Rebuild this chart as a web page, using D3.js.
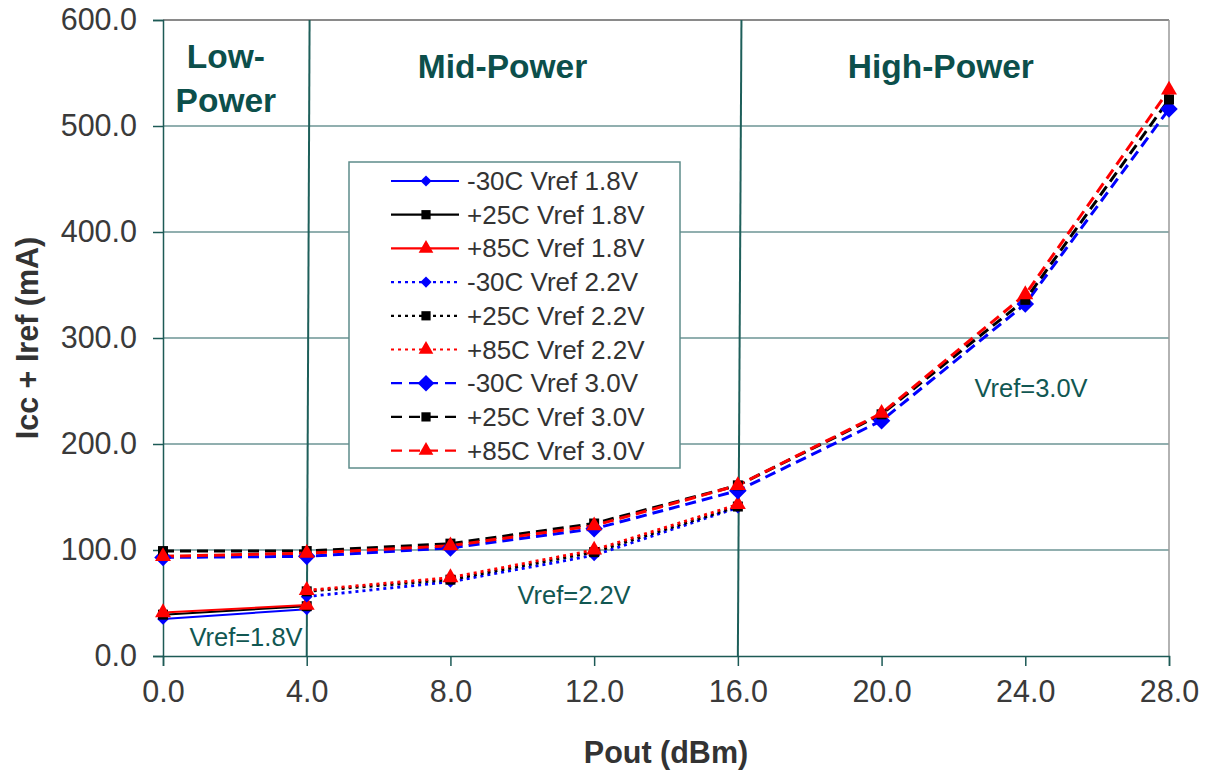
<!DOCTYPE html>
<html>
<head>
<meta charset="utf-8">
<script src="https://cdn.jsdelivr.net/npm/d3@7"></script>
<style>
  html, body { margin: 0; padding: 0; background: #fff; }
  svg { display: block; font-family: "Liberation Sans", Arial, sans-serif; }
</style>
</head>
<body>
<svg id="chart" width="1216" height="774"></svg>
<script>
// Supply current vs output power, three Vref settings at three temperatures
const xTicks = [0, 4, 8, 12, 16, 20, 24, 28];
const yTicks = [0, 100, 200, 300, 400, 500, 600];

const pout18 = [0, 4];
const icc18M30 = [35, 44];
const icc18P25 = [39, 47];
const icc18P85 = [41, 48];

const pout22 = [4, 8, 12, 16];
const icc22M30 = [56, 70, 95, 140];
const icc22P25 = [61, 72, 98, 141];
const icc22P85 = [62, 74, 100, 143];

const pout30 = [0, 4, 8, 12, 16, 20, 24, 28];
const icc30M30 = [93, 94, 102, 120, 156, 222, 332, 516];
const icc30P25 = [99, 99, 106, 125, 161, 228, 336, 525];
const icc30P85 = [94, 97, 104, 123, 161, 229, 341, 534];

const seriesNames = [
  "-30C Vref 1.8V", "+25C Vref 1.8V", "+85C Vref 1.8V",
  "-30C Vref 2.2V", "+25C Vref 2.2V", "+85C Vref 2.2V",
  "-30C Vref 3.0V", "+25C Vref 3.0V", "+85C Vref 3.0V"
];

// Power-mode region boundaries (bottom / top of the drawn divider)
const dividerBottom = [4, 16];
const dividerTop = [4.08, 16.1];
const regionLabels = [
  { lines: ["Low-", "Power"], x: 1.75, y: [68, 112] },
  { lines: ["Mid-Power"], x: 9.45, y: [78] },
  { lines: ["High-Power"], x: 21.65, y: [78] }
];
const vrefNotes = [
  { text: "Vref=1.8V", x: 2.31, y: 9.4 },
  { text: "Vref=2.2V", x: 11.44, y: 49 },
  { text: "Vref=3.0V", x: 24.16, y: 244 }
];

const series = [
  { name: seriesNames[0], x: pout18, y: icc18M30, color: "#0000ff", dash: null, marker: "diamond", size: 90, width: 2 },
  { name: seriesNames[1], x: pout18, y: icc18P25, color: "#000000", dash: null, marker: "square", size: 100, width: 2 },
  { name: seriesNames[2], x: pout18, y: icc18P85, color: "#ff0000", dash: null, marker: "triangle", size: 110, width: 2 },
  { name: seriesNames[3], x: pout22, y: icc22M30, color: "#0000ff", dash: "3,4", marker: "diamond", size: 90, width: 2.8 },
  { name: seriesNames[4], x: pout22, y: icc22P25, color: "#000000", dash: "3,4", marker: "square", size: 100, width: 2.8 },
  { name: seriesNames[5], x: pout22, y: icc22P85, color: "#ff0000", dash: "3,4", marker: "triangle", size: 110, width: 2.8 },
  { name: seriesNames[6], x: pout30, y: icc30M30, color: "#0000ff", dash: "11,6", marker: "diamond", size: 200, width: 3 },
  { name: seriesNames[7], x: pout30, y: icc30P25, color: "#000000", dash: "11,6", marker: "square", size: 100, width: 3 },
  { name: seriesNames[8], x: pout30, y: icc30P85, color: "#ff0000", dash: "11,6", marker: "triangle", size: 110, width: 3 }
];

const margin = { left: 163, top: 20, right: 47, bottom: 118 };
const W = 1216, H = 774;
const svg = d3.select("#chart");

const x = d3.scaleLinear().domain([0, 28]).range([margin.left, W - margin.right]);
const y = d3.scaleLinear().domain([0, 600]).range([H - margin.bottom, margin.top]);

const gridColor = "#6c9594";
const axisColor = "#1d5a56";
const labelTeal = "#0c4f4b";
const tickText = "#3a3a3a";

// Horizontal gridlines
svg.append("g").selectAll("line").data(yTicks.filter(v => v > 0 && v < 600)).join("line")
  .attr("x1", x(0)).attr("x2", x(28))
  .attr("y1", d => y(d)).attr("y2", d => y(d))
  .attr("stroke", gridColor).attr("stroke-width", 1.5);

// Top and right frame
svg.append("line").attr("x1", x(0)).attr("x2", x(28)).attr("y1", y(600)).attr("y2", y(600))
  .attr("stroke", "#8a8a8a").attr("stroke-width", 2);
svg.append("line").attr("x1", x(28)).attr("x2", x(28)).attr("y1", y(600)).attr("y2", y(0))
  .attr("stroke", "#9a9a9a").attr("stroke-width", 1.5);

// Y axis
const yAxis = d3.axisLeft(y).tickValues(yTicks).tickFormat(d3.format(".1f")).tickSize(10).tickPadding(16);
const gy = svg.append("g").attr("transform", `translate(${x(0)},0)`).call(yAxis);
gy.select(".domain").attr("stroke", axisColor).attr("stroke-width", 1.5);
gy.selectAll(".tick line").attr("stroke", axisColor).attr("stroke-width", 1.5);
gy.selectAll(".tick text").attr("fill", tickText).style("font-size", "30.5px")
  .style("font-family", "'Liberation Sans', Arial, sans-serif");

// X axis
const xAxis = d3.axisBottom(x).tickValues(xTicks).tickFormat(d3.format(".1f")).tickSize(10).tickPadding(14);
const gx = svg.append("g").attr("transform", `translate(0,${y(0)})`).call(xAxis);
gx.select(".domain").attr("stroke", axisColor).attr("stroke-width", 1.5);
gx.selectAll(".tick line").attr("stroke", axisColor).attr("stroke-width", 1.5);
gx.selectAll(".tick text").attr("fill", tickText).style("font-size", "30.5px")
  .style("font-family", "'Liberation Sans', Arial, sans-serif");

// Region dividers
svg.append("g").selectAll("line").data(dividerBottom).join("line")
  .attr("x1", d => x(d)).attr("y1", y(0))
  .attr("x2", (d, i) => x(dividerTop[i])).attr("y2", y(600))
  .attr("stroke", "#1e5f5a").attr("stroke-width", 2);

// Region titles
regionLabels.forEach(r => {
  const t = svg.append("text").attr("text-anchor", "middle").attr("fill", labelTeal)
    .style("font-size", "33.5px").style("font-weight", "bold");
  r.lines.forEach((ln, i) => {
    t.append("tspan").attr("x", x(r.x)).attr("y", r.y[i]).text(ln);
  });
});

// Vref annotations
svg.append("g").selectAll("text").data(vrefNotes).join("text")
  .attr("x", d => x(d.x)).attr("y", d => y(d.y))
  .attr("text-anchor", "middle").attr("fill", "#115752")
  .style("font-size", "25.5px").text(d => d.text);

// Marker shapes
function diamondPath(size) {
  const r = Math.sqrt(size) * 0.62;
  return `M0,${-r}L${r},0L0,${r}L${-r},0Z`;
}
function markerPath(s) {
  if (s.marker === "diamond") return diamondPath(s.size);
  return d3.symbol().type(s.marker === "square" ? d3.symbolSquare : d3.symbolTriangle).size(s.size)();
}

const line = d3.line();

// Series lines and markers
series.forEach(s => {
  const pts = s.x.map((v, i) => [x(v), y(s.y[i])]);
  svg.append("path").attr("d", line(pts)).attr("fill", "none")
    .attr("stroke", s.color).attr("stroke-width", s.width)
    .attr("stroke-dasharray", s.dash);
});
series.forEach(s => {
  svg.append("g").selectAll("path").data(s.x.map((v, i) => [v, s.y[i]])).join("path")
    .attr("transform", d => `translate(${x(d[0])},${y(d[1])})`)
    .attr("d", markerPath(s)).attr("fill", s.color);
});

// Legend
const lg = svg.append("g").attr("transform", "translate(349,162)");
lg.append("rect").attr("width", 331).attr("height", 306)
  .attr("fill", "#fff").attr("stroke", "#5e8c8a").attr("stroke-width", 1.5);
series.forEach((s, i) => {
  const row = lg.append("g").attr("transform", `translate(0,${19 + i * 33.7})`);
  row.append("line").attr("x1", 42).attr("x2", 110).attr("y1", 0).attr("y2", 0)
    .attr("stroke", s.color).attr("stroke-width", 2.2)
    .attr("stroke-dasharray", s.dash ? (s.dash === "3,4" ? "3,4" : "11,7") : null);
  const ms = s.marker === "diamond" ? s.size * 0.9 : s.size * 0.85;
  row.append("path").attr("transform", "translate(77,0)")
    .attr("d", markerPath({ marker: s.marker, size: ms })).attr("fill", s.color);
  row.append("text").attr("x", 118).attr("y", 9).attr("fill", "#333")
    .style("font-size", "26px").text(s.name);
});

// Axis titles
svg.append("text").attr("x", (x(0) + x(28)) / 2).attr("y", 763).attr("text-anchor", "middle")
  .attr("fill", "#333").style("font-size", "30.5px").style("font-weight", "bold").text("Pout (dBm)");
svg.append("text").attr("transform", `translate(38,${(y(0) + y(600)) / 2}) rotate(-90)`)
  .attr("text-anchor", "middle").attr("fill", "#333")
  .style("font-size", "30.5px").style("font-weight", "bold").text("Icc + Iref (mA)");
</script>
</body>
</html>
